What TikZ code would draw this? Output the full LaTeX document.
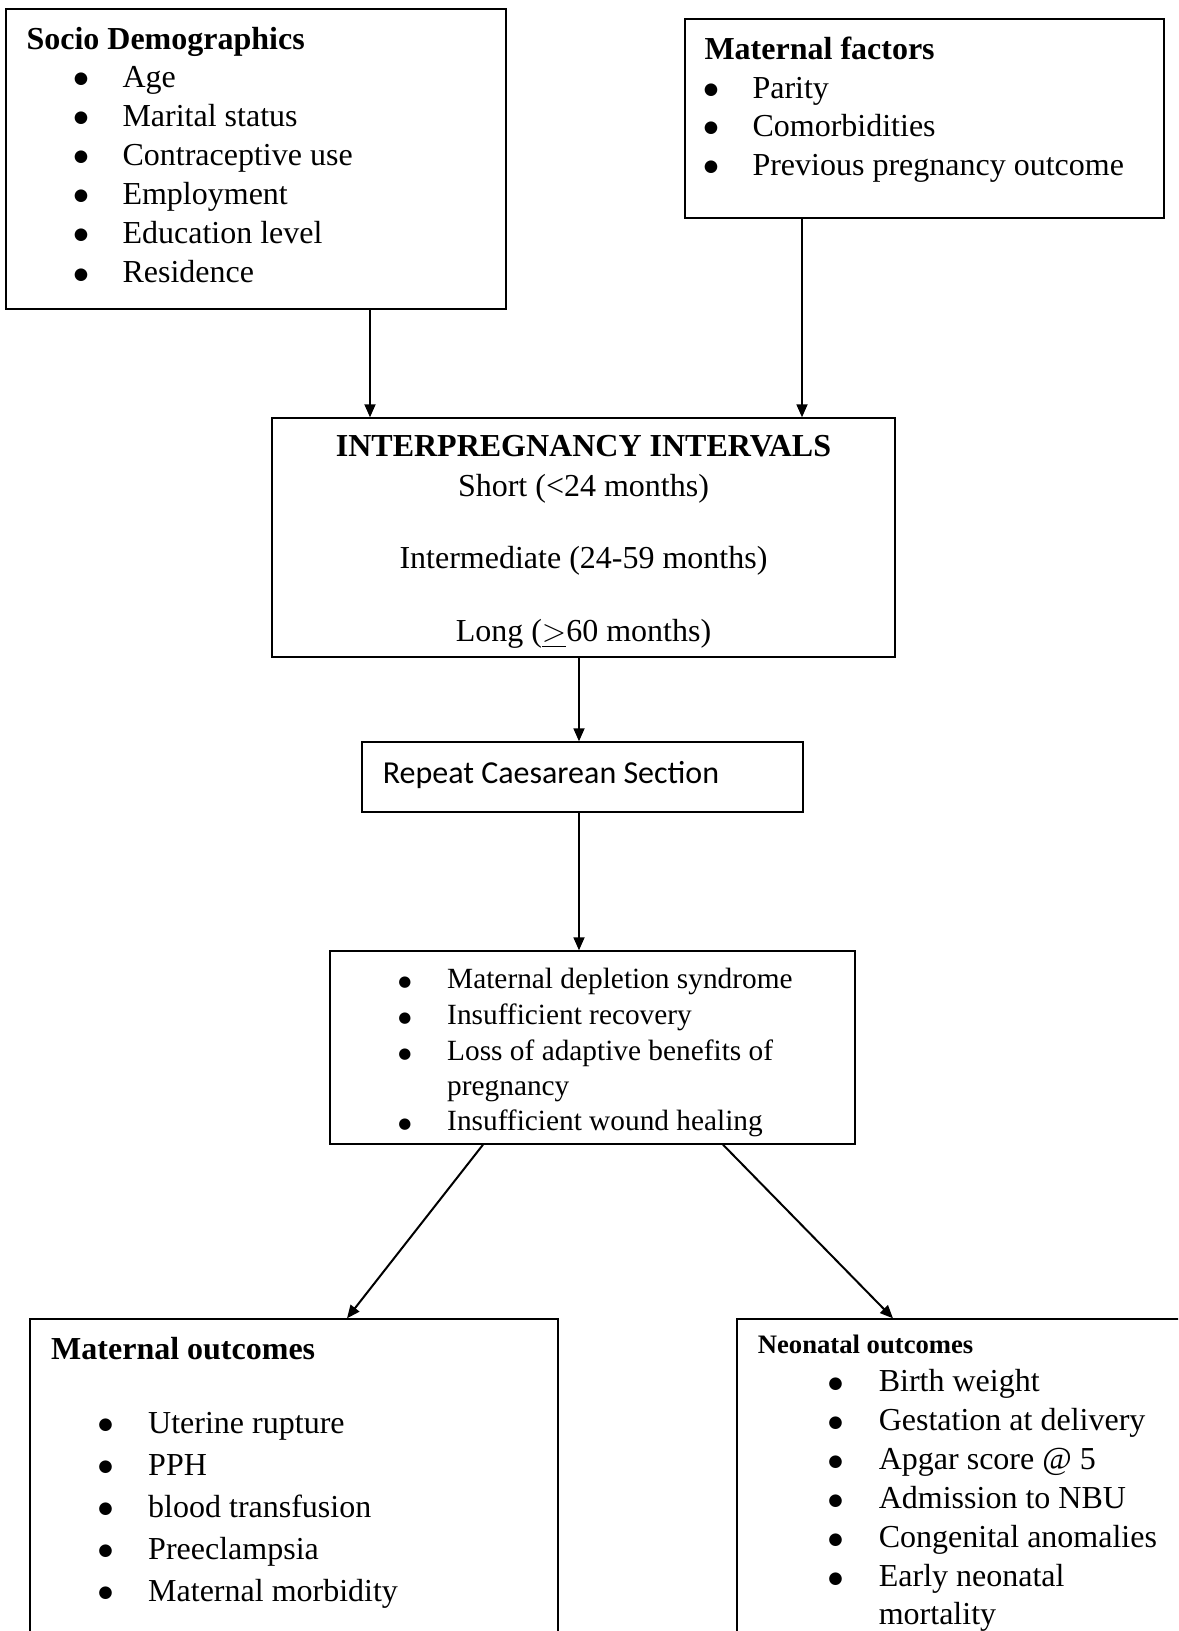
\documentclass[tikz,border=0pt]{standalone}
\usepackage{fontspec}
\setmainfont{Liberation Serif}
\newfontfamily\carlito{Carlito}
\newfontfamily\dejavu{DejaVu Sans}
\usetikzlibrary{arrows.meta,fit,positioning}

\tikzset{
  box/.style={draw, line width=0.5pt, inner sep=0pt},
  txt/.style={anchor=base west, inner sep=0pt, font=\fontsize{12}{14}\selectfont},
  ttl/.style={txt, font=\fontsize{12}{14}\selectfont\bfseries},
  ctr/.style={anchor=base, inner sep=0pt, font=\fontsize{12}{14}\selectfont},
  dot/.style={anchor=base, inner sep=0pt, font=\fontsize{6.2}{7}\dejavu},
  arr/.style={-{Triangle[length=4.9pt,width=4.1pt]}, line width=0.75pt},
}

\begin{document}
\begin{tikzpicture}[x=0.375pt,y=-0.375pt]
\useasboundingbox (0,0) rectangle (1178,1631);
\clip (0,0) rectangle (1178,1631);

% boxes
\node[box, fit={(6,9) (506,309)}] (socio) {};
\node[box, fit={(685,19) (1164,218)}] (matfac) {};
\node[box, fit={(272,418) (895,657)}] (ipi) {};
\node[box, fit={(362,742) (803,812)}] (rcs) {};
\node[box, fit={(330,951) (855,1144)}] (mech) {};
\node[box, fit={(30,1319) (558,1680)}] (matout) {};
\node[box, fit={(737,1319) (1220,1680)}] (neoout) {};

% socio demographics
\node[ttl] (socio-t) at (26,49) {Socio Demographics};
\foreach \t [count=\i from 0] in {Age, Marital status, Contraceptive use, Employment, Education level, Residence} {
  \node[dot] (socio-b\i) at (81,{83.5+39.1*\i}) {●};
  \node[txt] (socio-\i) at (122,{87.3+39.1*\i}) {\t};
}

% maternal factors
\node[ttl] (matfac-t) at (704,59) {Maternal factors};
\foreach \t [count=\i from 0] in {Parity, Comorbidities, Previous pregnancy outcome} {
  \node[dot] (matfac-b\i) at (711,{94.5+38.4*\i}) {●};
  \node[txt] (matfac-\i) at (752,{98.3+38.4*\i}) {\t};
}

% interpregnancy intervals
\node[ctr, font=\fontsize{12}{14}\selectfont\bfseries] (ipi-t) at (583.5,456.7) {INTERPREGNANCY INTERVALS};
\node[ctr] (ipi-1) at (583.5,496.7) {Short (<24 months)};
\node[ctr] (ipi-2) at (583.5,568.3) {Intermediate (24-59 months)};
\node[ctr] (ipi-3) at (583.5,641.7) {Long ($\underline{>}$60 months)};

% repeat caesarean
\node[txt, font=\fontsize{12}{14}\carlito] (rcs-t) at (382.3,783.3) {Repeat Caesarean Section};

% mechanisms
\foreach \t/\y [count=\i from 0] in {Maternal depletion syndrome/988.3, Insufficient recovery/1024.3, Loss of adaptive benefits of/1060, Insufficient wound healing/1130} {
  \node[dot, font=\fontsize{5.6}{6}\dejavu] (mech-b\i) at (405,\y-2) {●};
  \node[txt, font=\fontsize{11}{13}\selectfont] (mech-\i) at (446.7,\y) {\t};
}
\node[txt, font=\fontsize{11}{13}\selectfont] (mech-4) at (446.7,1095) {pregnancy};

% maternal outcomes
\node[ttl] (matout-t) at (50.7,1359.3) {Maternal outcomes};
\foreach \t [count=\i from 0] in {Uterine rupture, PPH, blood transfusion, Preeclampsia, Maternal morbidity} {
  \node[dot] (matout-b\i) at (105.7,{1429.5+42.1*\i}) {●};
  \node[txt] (matout-\i) at (147.7,{1433.3+42.1*\i}) {\t};
}

% neonatal outcomes
\node[txt, font=\fontsize{10}{12}\selectfont\bfseries] (neoout-t) at (757.3,1353.3) {Neonatal outcomes};
\foreach \t [count=\i from 0] in {Birth weight, Gestation at delivery, Apgar score @ 5, Admission to NBU, Congenital anomalies, Early neonatal} {
  \node[dot] (neoout-b\i) at (835.7,{1388+39*\i}) {●};
  \node[txt] (neoout-\i) at (878.3,{1391.7+39*\i}) {\t};
}
\node[txt] (neoout-6) at (878.3,1624) {mortality};

% arrows
\coordinate (c1) at (370,0);
\coordinate (c2) at (802,0);
\coordinate (c3) at (579,0);
\coordinate (m1) at (483,0);
\coordinate (m2) at (723,0);
\coordinate (o1) at (347,0);
\coordinate (o2) at (893,0);
\draw[arr] (c1 |- socio.south) -- (c1 |- ipi.north);
\draw[arr] (c2 |- matfac.south) -- (c2 |- ipi.north);
\draw[arr] (c3 |- ipi.south) -- (c3 |- rcs.north);
\draw[arr] (c3 |- rcs.south) -- (c3 |- mech.north);
\draw[arr] (m1 |- mech.south) -- (o1 |- matout.north);
\draw[arr] (m2 |- mech.south) -- (o2 |- neoout.north);
\end{tikzpicture}
\end{document}
